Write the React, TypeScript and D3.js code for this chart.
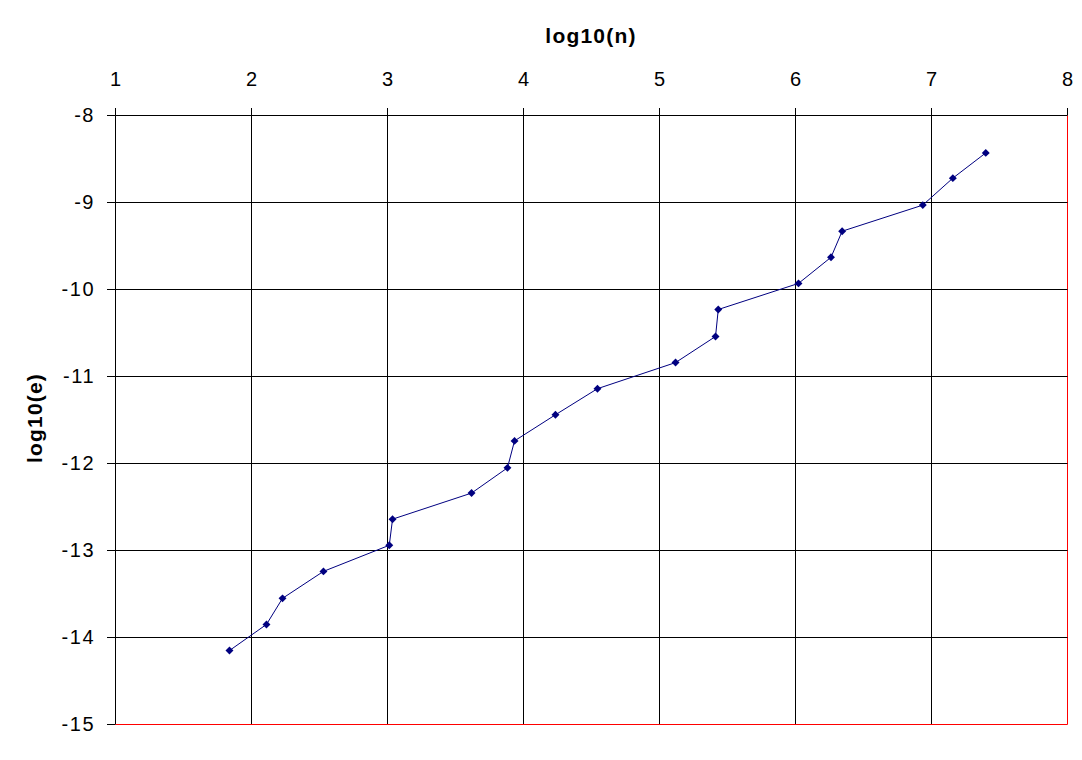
import React from "react";
import * as d3 from "d3";

const logN = [1.838, 2.11, 2.228, 2.529, 3.013, 3.037, 3.618, 3.882, 3.934, 4.235, 4.544, 5.118, 5.412, 5.432, 6.022, 6.261, 6.343, 6.936, 7.157, 7.399];
const logE = [-14.15, -13.85, -13.55, -13.24, -12.94, -12.64, -12.34, -12.05, -11.74, -11.44, -11.14, -10.84, -10.54, -10.23, -9.93, -9.63, -9.33, -9.03, -8.72, -8.43];
const xTicks = [1, 2, 3, 4, 5, 6, 7, 8];
const yTicks = [-8, -9, -10, -11, -12, -13, -14, -15];

const W = 1082;
const H = 760;
const left = 115;
const right = 1067;
const top = 115;
const bottom = 724;

export default function App() {
  const x = d3.scaleLinear().domain([1, 8]).range([left, right]);
  const y = d3.scaleLinear().domain([-8, -15]).range([top, bottom]);
  const pts = logN.map((v, i) => [x(v) + 0.5, y(logE[i]) + 0.5] as [number, number]);
  const line = d3.line()(pts) || "";
  const font = "Arial, 'Liberation Sans', sans-serif";
  const diamond = d3.symbol().type(d3.symbolDiamond2).size(40)() || "";
  const px = (v: number) => Math.round(x(v)) + 0.5;
  const py = (v: number) => Math.round(y(v)) + 0.5;

  return (
    <svg width={W} height={H} style={{ position: "absolute", left: 0, top: 0, background: "#fff" }} fontFamily={font}>
      <rect x={0} y={0} width={W} height={H} fill="#fff" />
      {/* vertical grid + top ticks */}
      {xTicks.map((t) => (
        <g key={"vx" + t}>
          <line x1={px(t)} x2={px(t)} y1={top - 7} y2={py(-8)} stroke="#000" strokeWidth={1} />
          <line x1={px(t)} x2={px(t)} y1={py(-8)} y2={py(-15)} stroke={t === 8 ? "#ff0000" : "#000"} strokeWidth={1} />
        </g>
      ))}
      {/* horizontal grid + left ticks */}
      {yTicks.map((t) => (
        <g key={"hy" + t}>
          <line x1={left - 8} x2={px(1)} y1={py(t)} y2={py(t)} stroke="#000" strokeWidth={1} />
          <line x1={px(1)} x2={px(8)} y1={py(t)} y2={py(t)} stroke={t === -15 ? "#ff0000" : "#000"} strokeWidth={1} />
        </g>
      ))}
      {/* tick labels */}
      {xTicks.map((t) => (
        <text key={"tx" + t} x={x(t) + 1} y={86} textAnchor="middle" fontSize={20} letterSpacing={1}>{t}</text>
      ))}
      {yTicks.map((t) => (
        <text key={"ty" + t} x={95} y={y(t)} dy="0.36em" textAnchor="end" fontSize={20} letterSpacing={1.5}>{t}</text>
      ))}
      {/* axis titles */}
      <text x={591} y={43} textAnchor="middle" fontSize={21} fontWeight="bold" letterSpacing={1.2}>log10(n)</text>
      <text transform={`translate(42,418) rotate(-90)`} textAnchor="middle" fontSize={21} fontWeight="bold" letterSpacing={1.2}>log10(e)</text>
      {/* series */}
      <path d={line} fill="none" stroke="#000080" strokeWidth={1} />
      {pts.map((p, i) => (
        <path key={"m" + i} d={diamond} transform={`translate(${p[0]},${p[1]})`} fill="#000080" />
      ))}
    </svg>
  );
}
